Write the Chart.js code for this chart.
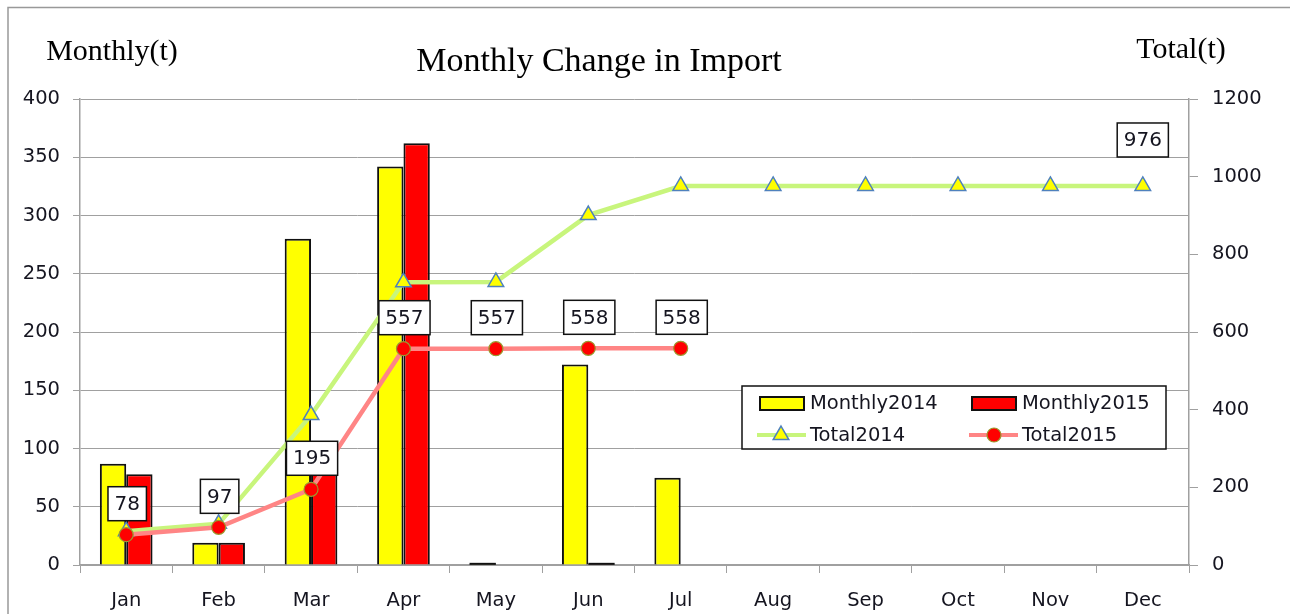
<!DOCTYPE html>
<html>
<head>
<meta charset="utf-8">
<script src="https://cdn.jsdelivr.net/npm/chart.js@4.4.1/dist/chart.umd.min.js"></script>
<style>
  html, body { margin: 0; padding: 0; background: #fff; }
  canvas { display: block; }
</style>
</head>
<body>
<canvas id="chart" width="1290" height="614"></canvas>
<script>
// data
const months = ['Jan', 'Feb', 'Mar', 'Apr', 'May', 'Jun', 'Jul', 'Aug', 'Sep', 'Oct', 'Nov', 'Dec'];
const monthly2014 = [87, 19, 280, 342, 1, 172, 75, null, null, null, null, null];
const monthly2015 = [78, 19, 98, 362, 0, 1, 0, null, null, null, null, null];
const total2014 = [87, 106, 386, 728, 729, 901, 976, 976, 976, 976, 976, 976];
const total2015 = [78, 97, 195, 557, 557, 558, 558, null, null, null, null, null];
const labelled2014 = [11];            // only Dec gets a box
const leftTicks = [0, 400, 50];       // min, max, step
const rightTicks = [0, 1200, 200];

const SANS = '"DejaVu Sans", Verdana, sans-serif';
const SERIF = '"Liberation Serif", "Times New Roman", serif';
const GRID = '#a0a0a0';
const TXT = '#151520';

const green = '#c8f57c';
const pink = '#ff8585';

function drawTri(ctx, x, y, r, fill, stroke) {
  ctx.beginPath();
  ctx.moveTo(x, y - r);
  ctx.lineTo(x + r * 0.866, y + r * 0.5);
  ctx.lineTo(x - r * 0.866, y + r * 0.5);
  ctx.closePath();
  ctx.fillStyle = fill; ctx.fill();
  ctx.lineWidth = 1.5; ctx.strokeStyle = stroke; ctx.stroke();
}
function drawDot(ctx, x, y, r, fill, stroke) {
  ctx.beginPath();
  ctx.arc(x, y, r, 0, Math.PI * 2);
  ctx.fillStyle = fill; ctx.fill();
  ctx.lineWidth = 1.2; ctx.strokeStyle = stroke; ctx.stroke();
}

function labelBox(ctx, text, cx, bottom) {
  ctx.font = '20px ' + SANS;
  const w = ctx.measureText(text).width + 13;
  const h = 34;
  ctx.fillStyle = '#fff';
  ctx.fillRect(cx - w / 2, bottom - h, w, h);
  ctx.lineWidth = 1.5; ctx.strokeStyle = '#111';
  ctx.strokeRect(cx - w / 2, bottom - h, w, h);
  ctx.fillStyle = TXT;
  ctx.textAlign = 'center'; ctx.textBaseline = 'middle';
  ctx.fillText(text, cx, bottom - h / 2 + 1);
}

const decor = {
  id: 'decor',
  beforeDraw(chart) {
    const ctx = chart.ctx;
    ctx.save();
    ctx.fillStyle = '#fff';
    ctx.fillRect(0, 0, chart.width, chart.height);
    ctx.strokeStyle = '#999'; ctx.lineWidth = 1.5;
    ctx.strokeRect(8, 7.5, 1300, 700);
    ctx.restore();
  },
  afterDatasetsDraw(chart) {
    const ctx = chart.ctx;
    ctx.save();
    // tiny months (value 1) show as a short black line in the original
    [0, 1].forEach(d => {
      chart.getDatasetMeta(d).data.forEach((b, i) => {
        const v = chart.data.datasets[d].data[i];
        if (v > 0 && v < 3) {
          ctx.strokeStyle = '#111'; ctx.lineWidth = 2;
          ctx.beginPath(); ctx.moveTo(b.x - b.width / 2, b.y); ctx.lineTo(b.x + b.width / 2, b.y); ctx.stroke();
        }
      });
    });
    const m15 = chart.getDatasetMeta(3);
    m15.data.forEach((p, i) => {
      if (total2015[i] == null) return;
      labelBox(ctx, String(total2015[i]), p.x + 1, p.y - 14);
    });
    const m14 = chart.getDatasetMeta(2);
    labelled2014.forEach(i => {
      const p = m14.data[i];
      labelBox(ctx, String(total2014[i]), p.x, p.y - 29);
    });
    ctx.restore();
  },
  afterDraw(chart) {
    const ctx = chart.ctx;
    ctx.save();
    ctx.fillStyle = '#000';
    ctx.textBaseline = 'middle'; ctx.textAlign = 'center';
    ctx.font = '34px ' + SERIF;
    ctx.fillText('Monthly Change in Import', 599, 62);
    ctx.font = '30px ' + SERIF;
    ctx.fillText('Monthly(t)', 112, 52);
    ctx.fillText('Total(t)', 1181, 50);

    // legend box
    ctx.fillStyle = '#fff';
    ctx.fillRect(742, 386, 424, 63);
    ctx.lineWidth = 1.5; ctx.strokeStyle = '#111';
    ctx.strokeRect(742, 386, 424, 63);
    ctx.font = '19.5px ' + SANS;
    ctx.textAlign = 'left';
    ctx.lineWidth = 2;
    ctx.fillStyle = '#ffff00'; ctx.fillRect(760, 397, 44, 13);
    ctx.strokeRect(760, 397, 44, 13);
    ctx.fillStyle = '#ff0000'; ctx.fillRect(972, 397, 44, 13);
    ctx.strokeRect(972, 397, 44, 13);
    ctx.lineWidth = 4;
    ctx.strokeStyle = green;
    ctx.beginPath(); ctx.moveTo(757, 435); ctx.lineTo(806, 435); ctx.stroke();
    drawTri(ctx, 781, 435, 9, '#ffff00', '#4f81bd');
    ctx.lineWidth = 4;
    ctx.strokeStyle = pink;
    ctx.beginPath(); ctx.moveTo(969, 435); ctx.lineTo(1018, 435); ctx.stroke();
    drawDot(ctx, 994, 435, 7, '#ff0000', '#9a9a30');
    ctx.fillStyle = TXT;
    ctx.fillText('Monthly2014', 810, 404);
    ctx.fillText('Monthly2015', 1022, 404);
    ctx.fillText('Total2014', 810, 436);
    ctx.fillText('Total2015', 1022, 436);
    ctx.restore();
  }
};

const tickFont = { family: SANS, size: 19.5 };

const ctx = document.getElementById('chart').getContext('2d');
new Chart(ctx, {
  type: 'bar',
  data: {
    labels: months,
    datasets: [
      {
        label: 'Monthly2014', data: monthly2014, yAxisID: 'y', order: 2,
        backgroundColor: '#ffff00', borderColor: '#111', borderWidth: 2,
        barPercentage: 1, categoryPercentage: 0.57
      },
      {
        label: 'Monthly2015', data: monthly2015, yAxisID: 'y', order: 2,
        backgroundColor: '#ff0000', borderColor: '#111',
        borderWidth: c => (c.raw ? 2 : 0),
        barPercentage: 1, categoryPercentage: 0.57
      },
      {
        type: 'line', label: 'Total2014', data: total2014, yAxisID: 'y1', order: 1,
        borderColor: green, borderWidth: 4.5, tension: 0,
        pointStyle: 'triangle', pointRadius: 9,
        pointBackgroundColor: '#ffff00', pointBorderColor: '#4f81bd', pointBorderWidth: 1.5
      },
      {
        type: 'line', label: 'Total2015', data: total2015, yAxisID: 'y1', order: 0,
        borderColor: pink, borderWidth: 4.5, tension: 0,
        pointStyle: 'circle', pointRadius: 7,
        pointBackgroundColor: '#ff0000', pointBorderColor: '#9a9a30', pointBorderWidth: 1.2
      }
    ]
  },
  options: {
    responsive: false,
    animation: false,
    devicePixelRatio: 1,
    layout: { padding: { top: 99, left: 0, right: 0, bottom: 0 } },
    plugins: { legend: { display: false }, tooltip: { enabled: false } },
    scales: {
      x: {
        offset: true,
        grid: { offset: true, drawOnChartArea: false, color: GRID, tickLength: 8 },
        border: { color: GRID, width: 1.5 },
        ticks: { color: TXT, font: tickFont, padding: 16 },
        afterFit: s => { s.height = 49; }
      },
      y: {
        position: 'left', min: leftTicks[0], max: leftTicks[1],
        ticks: { stepSize: leftTicks[2], color: TXT, font: tickFont, padding: 13 },
        grid: { color: GRID, tickLength: 7 },
        border: { color: GRID, width: 1.5 },
        afterFit: s => { s.width = 80; }
      },
      y1: {
        position: 'right', min: rightTicks[0], max: rightTicks[1],
        ticks: { stepSize: rightTicks[2], color: TXT, font: tickFont, padding: 14, callback: v => String(v) },
        grid: { drawOnChartArea: false, color: GRID, tickLength: 9 },
        border: { color: GRID, width: 1.5 },
        afterFit: s => { s.width = 101; }
      }
    }
  },
  plugins: [decor]
});
</script>
</body>
</html>
